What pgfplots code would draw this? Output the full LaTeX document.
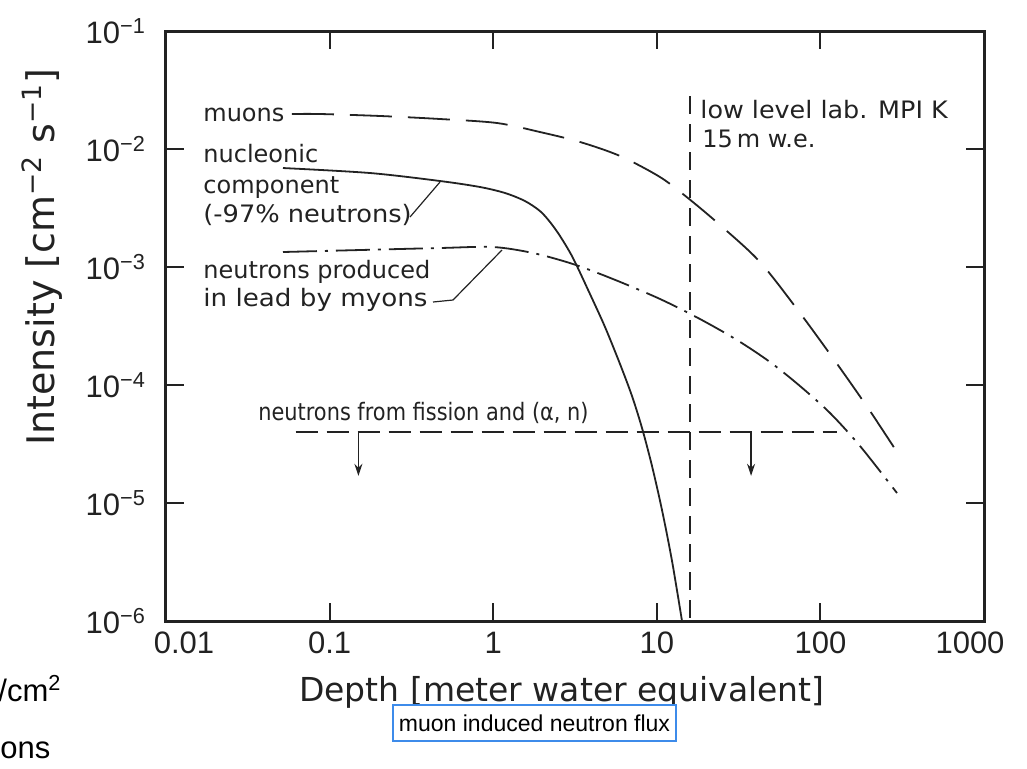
\documentclass[border=0pt]{standalone}
\usepackage{fontspec}
\setmainfont{Liberation Sans}
\newfontfamily\dejavu{DejaVu Sans}
\usepackage{pgfplots}
\pgfplotsset{compat=1.18}
\usetikzlibrary{arrows.meta}
\definecolor{ink}{HTML}{222222}
\definecolor{boxblue}{HTML}{3D8BEA}
\begin{document}
\begin{tikzpicture}[x=1pt,y=1pt]
\begin{axis}[
  at={(0,0)}, anchor=south west,
  xmode=log, ymode=log,
  width=409pt, height=295pt, scale only axis,
  xmin=0.01, xmax=1000, ymin=1e-6, ymax=1e-1,
  xtick={0.01,0.1,1,10,100,1000},
  xticklabels={\kern18pt 0.01,0.1,1,10,100,1000\kern14pt\relax},
  ytick={1e-6,1e-5,1e-4,1e-3,1e-2,1e-1},
  yticklabels={10\textsuperscript{−6},10\textsuperscript{−5},10\textsuperscript{−4},10\textsuperscript{−3},10\textsuperscript{−2},10\textsuperscript{−1}},
  xminorticks=false, yminorticks=false,
  tick align=inside, major tick length=9pt,
  axis line style={line width=1.5pt, ink},
  every tick/.style={ink, line width=1pt},
  ticklabel style={font=\fontsize{15.5}{18}\selectfont, text=ink},
  xticklabel style={yshift=-2pt},
  yticklabel style={xshift=-6.5pt},
  clip=false,
]
% muons
\addplot[ink, line width=0.9pt, dash pattern=on 21pt off 8pt, smooth] coordinates {
(0.0589,0.0198) (0.0874,0.0198) (0.2033,0.01905) (0.4729,0.01796) (1.055,0.01661)
(1.932,0.01393) (3.394,0.01147) (5.958,0.00873) (10.46,0.00579) (15.51,0.00384)
(24.34,0.00227) (42.73,0.001103) (75.06,4.075e-4) (131.8,1.393e-4) (201.0,6.02e-5) (293.9,2.705e-5)};
% nucleonic component
\addplot[ink, line width=0.9pt, smooth] coordinates {
(0.0519,6.90e-3) (0.1766,6.26e-3) (0.473,5.356e-3) (0.8304,4.764e-3) (1.181,4.238e-3)
(1.564,3.624e-3) (1.932,2.982e-3) (2.224,2.406e-3) (2.561,1.831e-3) (3.074,1.192e-3)
(3.905,5.904e-4) (4.825,3.101e-4) (5.958,1.507e-4) (7.053,8.07e-5) (8.121,4.32e-5)
(9.348,2.059e-5) (10.76,8.72e-6) (12.39,3.225e-6) (14.26,1e-6)};
% neutrons produced in lead by muons
\addplot[ink, line width=0.9pt, dash pattern=on 17pt off 4pt on 1.5pt off 4pt, smooth] coordinates {
(0.0519,1.340e-3) (0.1534,1.393e-3) (0.473,1.449e-3) (0.9972,1.477e-3) (1.751,1.314e-3)
(3.074,1.060e-3) (5.399,7.91e-4) (10.46,5.36e-4) (18.37,3.624e-4) (30.92,2.406e-4)
(49.20,1.566e-4) (75.06,9.80e-5) (114.5,5.79e-5) (174.7,3.04e-5) (293.9,1.215e-5)};
% fission and (alpha,n)
\addplot[ink, line width=0.9pt, dash pattern=on 11pt off 4.5pt] coordinates {(0.062,4e-5) (126,4e-5)};
\addplot[ink, line width=0.9pt, -{Stealth[length=6pt,width=4pt]}] coordinates {(0.15,4e-5) (0.15,1.7e-5)};
\addplot[ink, line width=0.9pt, -{Stealth[length=6pt,width=4pt]}] coordinates {(37.7,4e-5) (37.7,1.7e-5)};
% low level lab
\addplot[ink, line width=0.9pt, dash pattern=on 9pt off 5pt] coordinates {(16,2.8e-2) (16,1e-6)};
\end{axis}
\begin{scope}[every node/.style={text=ink, inner sep=0pt, anchor=base west, font=\dejavu\fontsize{12}{14}\selectfont}]
\node at (18.5,250) {muons};
\node at (18.5,229.5) {nucleonic};
\node at (18.5,214) {component};
\node[xscale=1.07] at (18.5,199.5) {(-97\% neutrons)};
\node at (18.5,171.5) {neutrons produced};
\node[xscale=1.09] at (18.5,157.5) {in lead by myons};
\node[xscale=0.87] at (46,100.5) {neutrons from fission and (α, n)};
\node[xscale=1.06] at (267,251.5) {low level lab. MPI K};
\node at (268,237) {15\,m w.e.};
\end{scope}
\draw[ink, line width=0.6pt] (122,202) -- (137,219.5);
\draw[ink, line width=0.6pt] (133.5,159.5) -- (143.5,160.5) -- (168,185.5);
% axis labels
\node[text=ink, font=\dejavu\fontsize{16.5}{20}\selectfont] at (198,-35.5) {Depth [meter water equivalent]};
\node[text=ink, rotate=90, font=\dejavu\fontsize{19}{22}\selectfont] at (-62,182) {Intensity [cm\textsuperscript{−2} s\textsuperscript{−1}]};
% caption box
\node[draw=boxblue, line width=0.8pt, minimum width=141.5pt, minimum height=18pt, inner sep=0pt, fill=white, text=black, font=\fontsize{11.5}{13}\selectfont] at (184.25,-51) {muon induced neutron flux};
% cut-off fragments at left
\node[anchor=base west, inner sep=0pt, text=black, font=\fontsize{15.5}{18}\selectfont] at (-84,-40) {/cm\textsuperscript{2}};
\node[anchor=base west, inner sep=0pt, text=black, font=\fontsize{15.5}{18}\selectfont] at (-83,-68.5) {ons};
\pgfresetboundingbox
\useasboundingbox (-83,-73.5) rectangle (430.5,310.5);
\end{tikzpicture}
\end{document}
